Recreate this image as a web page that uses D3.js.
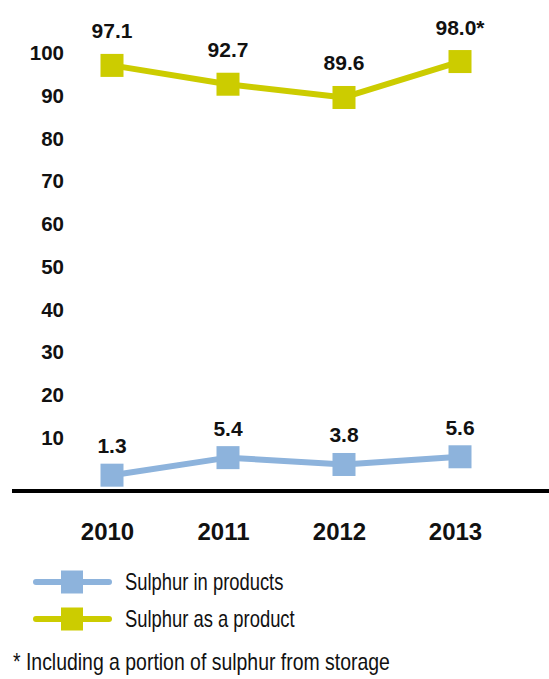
<!DOCTYPE html>
<html>
<head>
<meta charset="utf-8">
<script src="https://cdn.jsdelivr.net/npm/d3@7"></script>
<style>
  html, body { margin: 0; padding: 0; background: #fff; }
  svg { display: block; }
</style>
</head>
<body>
<svg id="chart" width="549" height="679"></svg>
<script>
// Sulphur output by year (thousand tonnes)
const years = ["2010", "2011", "2012", "2013"];
const sulphurInProducts = [1.3, 5.4, 3.8, 5.6];
const sulphurAsProduct = [97.1, 92.7, 89.6, 98.0];
const asProductNotes = ["", "", "", "*"];
const yTicks = [10, 20, 30, 40, 50, 60, 70, 80, 90, 100];
const legendLabels = ["Sulphur in products", "Sulphur as a product"];
const footnote = "* Including a portion of sulphur from storage";

const blue = "#8db3dc";
const lime = "#cccc00";
const boldFont = "'Liberation Sans', Arial, sans-serif";
const textFont = "'Liberation Sans', Arial, sans-serif";
const condense = 0.8; // horizontal squeeze for the narrow legend type

const svg = d3.select("#chart");

const x = d3.scalePoint().domain(years).range([112, 460]);
const y = d3.scaleLinear().domain([-2.4, 100]).range([491, 53]);

// Value axis: labels only
const yAxis = svg.append("g")
  .attr("transform", "translate(67,0)")
  .call(d3.axisLeft(y).tickValues(yTicks).tickSize(0).tickPadding(3));
yAxis.select(".domain").remove();
yAxis.selectAll("text")
  .attr("font-family", boldFont)
  .attr("font-weight", "bold")
  .attr("font-size", 20.5)
  .attr("fill", "#111");

// Year axis: labels only, baseline drawn separately
const xAxis = svg.append("g")
  .attr("transform", `translate(0,${y(-2.4)})`)
  .call(d3.axisBottom(x).tickSize(0).tickPadding(32));
xAxis.select(".domain").remove();
xAxis.selectAll("text")
  .attr("dx", -5)
  .attr("font-family", boldFont)
  .attr("font-weight", "bold")
  .attr("font-size", 24)
  .attr("fill", "#111");

svg.append("line")
  .attr("x1", 12).attr("x2", 549)
  .attr("y1", y(-2.4)).attr("y2", y(-2.4))
  .attr("stroke", "#000").attr("stroke-width", 4);

const line = d3.line()
  .x((d, i) => x(years[i]))
  .y(d => y(d));

function drawSeries(values, color, labelGap, notes) {
  svg.append("path")
    .datum(values)
    .attr("d", line)
    .attr("fill", "none")
    .attr("stroke", color)
    .attr("stroke-width", 6)
    .attr("stroke-linejoin", "round");

  svg.append("g").selectAll("rect")
    .data(values)
    .join("rect")
    .attr("x", (d, i) => x(years[i]) - 11.5)
    .attr("y", d => y(d) - 11.5)
    .attr("width", 23)
    .attr("height", 23)
    .attr("fill", color);

  svg.append("g").selectAll("text")
    .data(values)
    .join("text")
    .attr("x", (d, i) => x(years[i]))
    .attr("y", d => y(d) - labelGap)
    .attr("text-anchor", "middle")
    .attr("font-family", boldFont)
    .attr("font-weight", "bold")
    .attr("font-size", 21)
    .attr("fill", "#111")
    .text((d, i) => d.toFixed(1) + (notes ? notes[i] : ""));
}

drawSeries(sulphurAsProduct, lime, 27, asProductNotes);
drawSeries(sulphurInProducts, blue, 22, null);

// Legend
const legendColors = [blue, lime];
const legend = svg.append("g").selectAll("g")
  .data(legendLabels)
  .join("g")
  .attr("transform", (d, i) => `translate(0,${582 + i * 37})`);

legend.append("line")
  .attr("x1", 36).attr("x2", 109)
  .attr("y1", 0).attr("y2", 0)
  .attr("stroke", (d, i) => legendColors[i])
  .attr("stroke-width", 6)
  .attr("stroke-linecap", "round");

legend.append("rect")
  .attr("x", 61).attr("y", -11.5)
  .attr("width", 22).attr("height", 23)
  .attr("fill", (d, i) => legendColors[i]);

legend.append("text")
  .attr("transform", `translate(125,0) scale(${condense},1)`)
  .attr("dy", "0.36em")
  .attr("font-family", textFont)
  .attr("font-size", 23)
  .attr("fill", "#111")
  .text(d => d);

// Footnote for the starred value
svg.append("text")
  .attr("transform", "translate(13,670) scale(0.845,1)")
  .attr("font-family", textFont)
  .attr("font-size", 23)
  .attr("fill", "#111")
  .text(footnote);
</script>
</body>
</html>
